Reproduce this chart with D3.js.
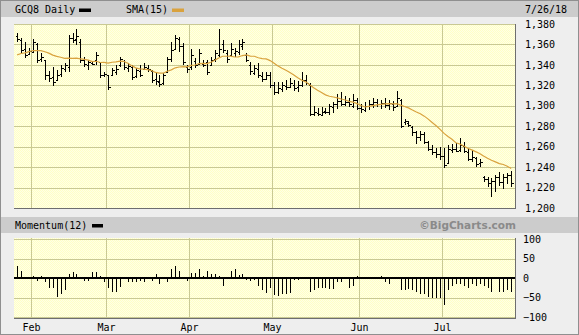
<!DOCTYPE html>
<html>
<head>
<meta charset="utf-8">
<script src="https://cdn.jsdelivr.net/npm/d3@7"></script>
<style>
  html, body { margin: 0; padding: 0; background: #fff; }
  svg text { font-family: "DejaVu Sans Mono", monospace; font-size: 10px; fill: #000; }
</style>
</head>
<body>
<div id="chart"></div>
<script>
// GCQ8 daily bars, Jan 26 - Jul 26 2018 (one entry per trading day)
const symbol = "GCQ8 Daily";
const smaLabel = "SMA(15)";
const momLabel = "Momentum(12)";
const dateLabel = "7/26/18";

const opens = [
  1368,1364,1356,1351,1353,1360,1346,1345,1330,1328,
  1325,1331,1336,1338,1366,1365,1362,1345,1340,1342,
  1345,1343,1330,1330,1330,1333,1340,1344,1337,1338,
  1329,1334,1336,1337,1334,1326,1323,1322,1333,1346,
  1356,1365,1358,1338,1338,1344,1341,1341,1343,1340,
  1346,1350,1360,1352,1350,1352,1353,1358,1350,1340,
  1332,1336,1329,1326,1330,1320,1313,1316,1319,1318,
  1320,1318,1320,1325,1320,1292,1293,1291,1295,1294,
  1299,1302,1305,1302,1304,1300,1306,1298,1296,1300,
  1302,1304,1302,1303,1301,1302,1300,1306,1284,1283,
  1279,1274,1269,1272,1265,1258,1255,1253,1251,1244,
  1257,1258,1257,1261,1255,1248,1249,1244,1230,1228,
  1224,1226,1230,1225,1230,1232
];
const highs = [
  1371,1366,1362,1357,1365,1361,1352,1345,1334,1338,
  1335,1340,1342,1369,1371,1375,1365,1348,1345,1344,
  1353,1343,1333,1330,1337,1340,1348,1345,1342,1340,
  1337,1340,1342,1340,1335,1332,1330,1332,1348,1362,
  1369,1367,1361,1340,1356,1347,1356,1345,1345,1348,
  1355,1375,1364,1355,1361,1357,1364,1365,1352,1343,
  1340,1342,1333,1333,1333,1323,1323,1323,1325,1327,
  1325,1324,1333,1330,1322,1300,1298,1299,1298,1302,
  1304,1312,1313,1310,1308,1312,1308,1302,1304,1306,
  1308,1307,1306,1308,1306,1305,1314,1307,1287,1285,
  1280,1275,1275,1274,1266,1262,1259,1260,1259,1262,
  1263,1264,1268,1265,1259,1257,1250,1248,1231,1230,
  1229,1232,1235,1233,1234,1236
];
const lows = [
  1362,1352,1347,1350,1352,1342,1343,1325,1323,1319,
  1325,1328,1333,1333,1361,1359,1342,1338,1335,1340,
  1340,1327,1328,1315,1330,1330,1338,1335,1333,1325,
  1327,1328,1335,1333,1322,1320,1318,1320,1333,1343,
  1355,1353,1340,1332,1335,1337,1340,1338,1330,1340,
  1343,1348,1352,1342,1350,1348,1350,1355,1343,1330,
  1330,1327,1323,1325,1317,1311,1312,1313,1315,1317,
  1314,1313,1318,1320,1290,1290,1290,1291,1292,1291,
  1293,1297,1300,1300,1299,1298,1296,1293,1294,1296,
  1298,1299,1297,1298,1296,1295,1300,1278,1281,1279,
  1270,1263,1266,1263,1256,1252,1249,1247,1239,1244,
  1254,1255,1255,1254,1246,1245,1240,1240,1225,1221,
  1211,1216,1222,1219,1223,1221
];
const closes = [
  1365,1355,1350,1354,1362,1345,1348,1330,1327,1323,
  1330,1337,1340,1366,1364,1368,1345,1341,1343,1341,
  1350,1330,1331,1318,1335,1336,1346,1338,1339,1328,
  1335,1330,1338,1336,1325,1324,1321,1330,1346,1355,
  1366,1358,1343,1336,1350,1340,1352,1340,1333,1345,
  1352,1356,1355,1346,1356,1354,1360,1362,1345,1334,
  1337,1330,1326,1330,1320,1313,1317,1320,1318,1322,
  1317,1320,1325,1322,1292,1294,1292,1294,1294,1300,
  1302,1305,1302,1304,1302,1306,1298,1297,1300,1302,
  1304,1302,1303,1301,1303,1299,1308,1280,1285,1281,
  1274,1269,1272,1265,1258,1255,1253,1251,1242,1258,
  1258,1256,1262,1256,1248,1250,1243,1245,1228,1224,
  1226,1230,1225,1230,1232,1224
];
// closes of the 14 sessions before the window (needed for the first SMA points)
const priorCloses = [1335,1340,1337,1345,1348,1346,1347,1348,1352,1348,1350,1356,1362,1368];

const momentum = [
  32,17,0,0,4,-7,4,-9,-25,-25,
  -48,-42,-31,11,15,11,0,-7,-7,15,
  15,4,-9,-25,-35,-35,-22,0,-9,-9,
  -11,-7,-9,0,-7,11,-15,0,-9,22,
  32,17,0,-7,13,13,22,4,17,11,
  11,4,-20,0,19,22,7,9,-4,-7,
  -4,-20,-31,-38,-26,-44,-46,-40,-40,-38,
  -6,-5,3,0,-35,-30,-25,-25,-25,-28,
  -28,-10,-10,0,-25,-20,5,0,0,3,
  3,3,5,-10,-15,0,3,-30,-30,-28,
  -30,-35,-40,-40,-48,-50,-50,-50,-70,-30,
  -20,-15,-15,-20,-25,-15,-20,-15,-20,-25,
  -35,0,-35,-35,-30,-35
];

const monthLabels = ["Feb", "Mar", "Apr", "May", "Jun", "Jul"];
const monthStarts = [4, 23, 44, 65, 87, 108];   // bar index of the first session
const priceTicks = [1200, 1220, 1240, 1260, 1280, 1300, 1320, 1340, 1360, 1380];
const momentumTicks = [-100, -50, 0, 50, 100];

class BigChart {
    constructor(node) {
        this.node = node;
        this.settings = {
            width: 579, height: 335,
            left: 14, right: 515,
            priceTop: 24, priceBottom: 208,
            momTop: 238, momBottom: 318,
            grid: "#c9c994", sma: "#d9a23e"
        };
        this.bars = closes.map((c, i) => ({
            i: i, o: opens[i], h: highs[i], l: lows[i], c: c, m: momentum[i]
        }));
        this.sma = this.movingAverage(15);
        this.init();
        this.render();
    }

    movingAverage(n) {
        const all = priorCloses.concat(closes);
        return closes.map((c, i) => d3.mean(all.slice(i + priorCloses.length - n + 1, i + priorCloses.length + 1)));
    }

    init() {
        const s = this.settings;
        this.svg = d3.select(this.node).append("svg")
            .attr("width", s.width)
            .attr("height", s.height);

        const pat = this.svg.append("defs").append("pattern")
            .attr("id", "dither").attr("width", 2).attr("height", 2)
            .attr("patternUnits", "userSpaceOnUse");
        pat.append("rect").attr("width", 2).attr("height", 2).attr("fill", "#ffffe6");
        pat.append("rect").attr("width", 1).attr("height", 1).attr("fill", "#ffffc6");
        pat.append("rect").attr("x", 1).attr("y", 1).attr("width", 1).attr("height", 1).attr("fill", "#ffffc6");

        this.x = d3.scaleLinear().domain([0, closes.length]).range([15.2, 513.2]);
        this.yPrice = d3.scaleLinear().domain([1200, 1380]).range([s.priceBottom, s.priceTop]);
        this.yMom = d3.scaleLinear().domain([-100, 100]).range([317, 239]);
    }

    drawFrame() {
        const s = this.settings;
        this.svg.append("rect").attr("width", s.width).attr("height", s.height).attr("fill", "#eeeeee");
        this.svg.append("rect").attr("x", 1).attr("y", 1).attr("width", s.width - 2).attr("height", 16).attr("fill", "#cccccc");
        this.svg.append("rect").attr("x", 1).attr("y", 217).attr("width", s.width - 2).attr("height", 16).attr("fill", "#cccccc");
        this.svg.append("rect").attr("x", 0.5).attr("y", 0.5).attr("width", s.width - 1).attr("height", s.height - 1)
            .attr("fill", "none").attr("stroke", "#8f8f8f");
    }

    drawPanel(top, bottom, yScale, ticks) {
        const s = this.settings;
        const g = this.svg.append("g").attr("shape-rendering", "crispEdges");
        g.append("rect").attr("x", s.left).attr("y", top)
            .attr("width", s.right - s.left).attr("height", bottom - top).attr("fill", "url(#dither)");

        g.selectAll(".hgrid").data(ticks).enter().append("line")
            .attr("x1", s.left).attr("x2", s.right)
            .attr("y1", d => Math.round(yScale(d)) + 0.5).attr("y2", d => Math.round(yScale(d)) + 0.5)
            .attr("stroke", s.grid);

        g.selectAll(".vgrid").data(monthStarts).enter().append("line")
            .attr("x1", d => Math.round(this.x(d)) + 0.5).attr("x2", d => Math.round(this.x(d)) + 0.5)
            .attr("y1", top).attr("y2", bottom)
            .attr("stroke", s.grid);

        // shadow on bottom and right
        g.append("line").attr("x1", s.left).attr("x2", s.right + 1).attr("y1", bottom + 0.5).attr("y2", bottom + 0.5)
            .attr("stroke", "#6e6e6e");
        g.append("line").attr("x1", s.right + 0.5).attr("x2", s.right + 0.5).attr("y1", top).attr("y2", bottom + 1)
            .attr("stroke", "#6e6e6e");
    }

    drawPrice() {
        const s = this.settings;
        const g = this.svg.append("g").attr("shape-rendering", "crispEdges");
        const cx = d => Math.round(this.x(d.i + 0.5)) + 0.5;

        g.selectAll(".hl").data(this.bars).enter().append("line")
            .attr("x1", cx).attr("x2", cx)
            .attr("y1", d => this.yPrice(d.h)).attr("y2", d => this.yPrice(d.l))
            .attr("stroke", "#000").attr("stroke-width", 1);
        g.selectAll(".op").data(this.bars).enter().append("line")
            .attr("x1", d => cx(d) - 2).attr("x2", cx)
            .attr("y1", d => Math.round(this.yPrice(d.o)) + 0.5).attr("y2", d => Math.round(this.yPrice(d.o)) + 0.5)
            .attr("stroke", "#000");
        g.selectAll(".cl").data(this.bars).enter().append("line")
            .attr("x1", cx).attr("x2", d => cx(d) + 2)
            .attr("y1", d => Math.round(this.yPrice(d.c)) + 0.5).attr("y2", d => Math.round(this.yPrice(d.c)) + 0.5)
            .attr("stroke", "#000");

        const line = d3.line()
            .x((d, i) => this.x(i + 0.5))
            .y(d => this.yPrice(d));
        this.svg.append("path").datum(this.sma)
            .attr("d", line).attr("fill", "none")
            .attr("stroke", s.sma).attr("stroke-width", 1.2);

        const axis = d3.axisRight(this.yPrice).tickValues(priceTicks).tickFormat(d3.format(",")).tickSize(0);
        const ag = this.svg.append("g").attr("transform", "translate(" + (s.right + 8) + ",0)").call(axis);
        ag.select(".domain").remove();
        ag.selectAll("text").attr("x", 2).attr("font-family", null).attr("font-size", null);
    }

    drawMomentum() {
        const s = this.settings;
        const g = this.svg.append("g").attr("shape-rendering", "crispEdges");
        const cx = d => Math.round(this.x(d.i + 0.5)) + 0.5;

        g.append("line").attr("x1", s.left).attr("x2", s.right)
            .attr("y1", this.yMom(0)).attr("y2", this.yMom(0))
            .attr("stroke", "#000").attr("stroke-width", 2);

        g.selectAll(".mb").data(this.bars.filter(d => d.m !== 0)).enter().append("line")
            .attr("x1", cx).attr("x2", cx)
            .attr("y1", this.yMom(0)).attr("y2", d => this.yMom(d.m))
            .attr("stroke", "#000").attr("stroke-width", 1);

        const axis = d3.axisRight(this.yMom).tickValues(momentumTicks).tickSize(0);
        const ag = this.svg.append("g").attr("transform", "translate(" + (s.right + 6) + ",0)").call(axis);
        ag.select(".domain").remove();
        ag.selectAll("text").attr("x", 2).attr("font-family", null).attr("font-size", null);

        const xa = d3.axisBottom(this.x).tickValues(monthStarts)
            .tickFormat((d, i) => monthLabels[i]).tickSize(0);
        const xg = this.svg.append("g").attr("transform", "translate(0," + (s.momBottom + 3) + ")").call(xa);
        xg.select(".domain").remove();
        xg.selectAll("text").attr("font-family", null).attr("font-size", null);
    }

    drawLegend() {
        const s = this.settings;
        this.svg.append("text").attr("x", 15).attr("y", 13).text(symbol);
        this.svg.append("rect").attr("x", 79).attr("y", 8.5).attr("width", 12).attr("height", 3.5).attr("fill", "#000");
        this.svg.append("text").attr("x", 126).attr("y", 13).text(smaLabel);
        this.svg.append("rect").attr("x", 172).attr("y", 8.5).attr("width", 12).attr("height", 3.5).attr("fill", s.sma);
        this.svg.append("text").attr("x", 525).attr("y", 13).text(dateLabel);

        this.svg.append("text").attr("x", 15).attr("y", 229).text(momLabel);
        this.svg.append("rect").attr("x", 92).attr("y", 224).attr("width", 11).attr("height", 3.5).attr("fill", "#000");
        this.svg.append("text").attr("x", 516).attr("y", 229).attr("text-anchor", "end")
            .style("font-family", "'DejaVu Sans', sans-serif").style("font-weight", "bold")
            .style("font-size", "10.5px").style("fill", "#8a8a8a")
            .text("\u00a9BigCharts.com");
    }

    render() {
        const s = this.settings;
        this.drawFrame();
        this.drawPanel(s.priceTop, s.priceBottom, this.yPrice, priceTicks);
        this.drawPanel(s.momTop, s.momBottom, this.yMom, momentumTicks);
        this.drawPrice();
        this.drawMomentum();
        this.drawLegend();
    }
}

new BigChart(document.getElementById("chart"));
</script>
</body>
</html>
